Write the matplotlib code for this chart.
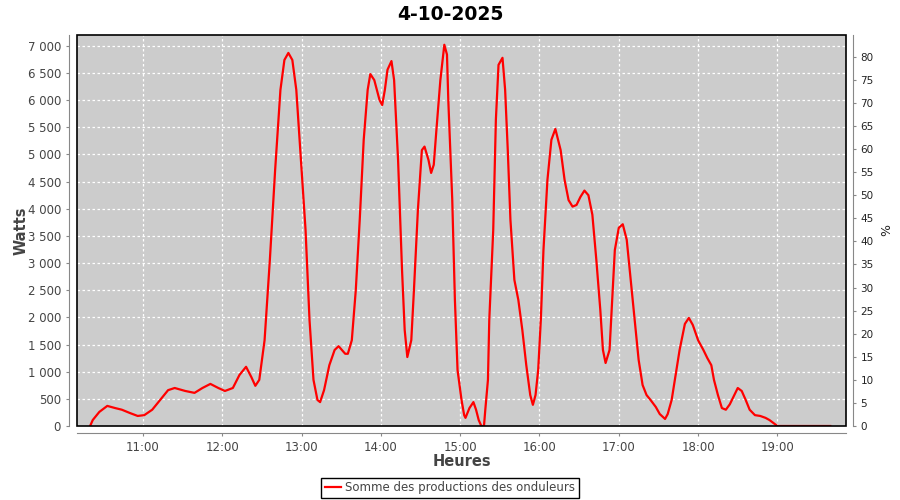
import matplotlib.pyplot as plt
from matplotlib.patches import Rectangle
from matplotlib.ticker import FuncFormatter, MultipleLocator

title = "4-10-2025"
series_name = "Somme des productions des onduleurs"

# puissance (heure, watts)
heures = ["10:20", "10:22", "10:27", "10:33", "10:39", "10:44", "10:50", "10:56",
          "11:01", "11:07", "11:13", "11:19", "11:24", "11:32", "11:39", "11:45",
          "11:51", "11:57", "12:02", "12:08", "12:13", "12:18", "12:22", "12:25",
          "12:28", "12:32", "12:36", "12:40", "12:44", "12:47", "12:50", "12:53",
          "12:56", "12:59", "13:03", "13:06", "13:09", "13:12", "13:14", "13:17",
          "13:21", "13:25", "13:28", "13:33", "13:35", "13:38", "13:41", "13:44",
          "13:47", "13:50", "13:52", "13:55", "13:59", "14:01", "14:03", "14:05",
          "14:08", "14:10", "14:13", "14:16", "14:18", "14:20", "14:23", "14:25",
          "14:28", "14:31", "14:33", "14:36", "14:38", "14:40", "14:42", "14:45",
          "14:48", "14:50", "14:51", "14:54", "14:56", "14:58", "15:01", "15:03",
          "15:04", "15:07", "15:10", "15:12", "15:14", "15:16", "15:18", "15:19",
          "15:21", "15:22", "15:25", "15:27", "15:29", "15:32", "15:34", "15:36",
          "15:38", "15:41", "15:44", "15:47", "15:50", "15:53", "15:55", "15:57",
          "15:59", "16:01", "16:03", "16:06", "16:09", "16:12", "16:16", "16:19",
          "16:22", "16:25", "16:28", "16:31", "16:34", "16:37", "16:40", "16:43",
          "16:46", "16:48", "16:50", "16:53", "16:55", "16:57", "17:00", "17:03",
          "17:06", "17:09", "17:12", "17:15", "17:18", "17:21", "17:24", "17:28",
          "17:31", "17:35", "17:37", "17:40", "17:43", "17:46", "17:50", "17:53",
          "17:56", "18:00", "18:04", "18:07", "18:10", "18:12", "18:15", "18:18",
          "18:21", "18:24", "18:27", "18:30", "18:33", "18:36", "18:39", "18:43",
          "18:47", "18:51", "18:54", "18:57", "19:00", "19:40"]
watts = [0, 110, 260, 370, 330, 300, 240, 185,
         200, 300, 480, 660, 700, 645, 610, 700,
         775, 700, 645, 700, 940, 1090, 900, 740,
         850, 1580, 3060, 4720, 6190, 6740, 6870, 6740,
         6190, 5080, 3610, 1950, 850, 480, 440, 660,
         1120, 1400, 1470, 1330, 1330, 1580, 2500, 3800,
         5270, 6190, 6480, 6370, 6000, 5910, 6190, 6560,
         6720, 6370, 4900, 2870, 1770, 1270, 1580, 2500,
         3980, 5080, 5145, 4900, 4660, 4810, 5450, 6370,
         7020, 6840, 6000, 4160, 2320, 1030, 480, 200,
         150, 330, 440, 300, 110, 0, 0, 300,
         850, 1950, 3610, 5640, 6650, 6780, 6190, 5080,
         3800, 2690, 2320, 1770, 1120, 570, 390, 570,
         1030, 1950, 3240, 4530, 5270, 5470, 5080, 4530,
         4160, 4040, 4070, 4220, 4335, 4250, 3890, 3060,
         2140, 1400, 1160, 1400, 2320, 3240, 3650, 3715,
         3430, 2690, 1950, 1220, 755, 570, 480, 350,
         220, 130, 220, 480, 940, 1400, 1880, 1990,
         1860, 1580, 1400, 1250, 1120, 850, 570, 330,
         300, 400, 550, 700, 645, 480, 300, 200,
         185, 150, 110, 55, 0, 0]

puissance_max = 8500  # watts pour 100 %
hour_ticks = [11, 12, 13, 14, 15, 16, 17, 18, 19]


def to_hours(s):
    h, m = s.split(":")
    return int(h) + int(m) / 60


x = [to_hours(h) for h in heures]

gray = "#444444"
fig = plt.figure(figsize=(9, 5), dpi=100)
ax = fig.add_axes([77 / 900, 1 - 426 / 500, 769 / 900, 391 / 500])
ax.set_facecolor("#cccccc")

ax.plot(x, watts, color="#ff0000", lw=1.6, label=series_name, zorder=3)

ax.set_xlim(10.168, 19.865)
ax.set_ylim(0, 7200)
ax.set_xticks(hour_ticks)
ax.set_xticklabels(["%d:00" % h for h in hour_ticks])
ax.yaxis.set_major_locator(MultipleLocator(500))
ax.yaxis.set_major_formatter(FuncFormatter(lambda v, p: "{:,.0f}".format(v).replace(",", " ")))
ax.grid(True, color="white", ls=(0, (2, 2)), lw=0.9)
ax.set_axisbelow(True)

for side in ["top", "right"]:
    ax.spines[side].set_visible(False)
ax.spines["left"].set_position(("outward", 6))
ax.spines["bottom"].set_position(("outward", 5))
ax.spines["left"].set_color("#888888")
ax.spines["bottom"].set_color("#888888")
ax.tick_params(axis="both", colors="#888888", labelcolor=gray, labelsize=8.5, length=2)

ax.add_patch(Rectangle((0, 0), 1, 1, transform=ax.transAxes, fill=False,
                       edgecolor="black", lw=1.2, clip_on=False, zorder=5))

ax.set_ylabel("Watts", fontsize=10.5, fontweight="bold", color=gray)
ax.set_xlabel("Heures", fontsize=10.5, fontweight="bold", color=gray)
ax.yaxis.set_label_coords(-0.063, 0.5)
ax.xaxis.set_label_coords(0.5, -0.071)

# axe de droite en pourcentage
ax2 = ax.twinx()
ax2.set_ylim(0, 7200 / puissance_max * 100)
ax2.yaxis.set_major_locator(MultipleLocator(5))
for side in ["top", "left", "bottom"]:
    ax2.spines[side].set_visible(False)
ax2.spines["right"].set_position(("outward", 5))
ax2.spines["right"].set_color("#888888")
ax2.tick_params(axis="y", colors="#888888", labelcolor="#222222", labelsize=7.5, length=2)
ax2.set_ylabel("%", fontsize=9, color="#222222")
ax2.yaxis.set_label_coords(1.045, 0.5)

fig.text(0.5, 1 - 14 / 500, title, ha="center", va="center", fontsize=13.5, fontweight="bold")

leg = fig.legend(loc="center", bbox_to_anchor=(0.5, 1 - 488 / 500), fontsize=8.5,
                 frameon=True, fancybox=False, edgecolor="black", framealpha=1,
                 handlelength=1.4, borderpad=0.3, handletextpad=0.3)
leg.get_frame().set_linewidth(1)
for t in leg.get_texts():
    t.set_color(gray)

fig.savefig("out.png", dpi=100)
